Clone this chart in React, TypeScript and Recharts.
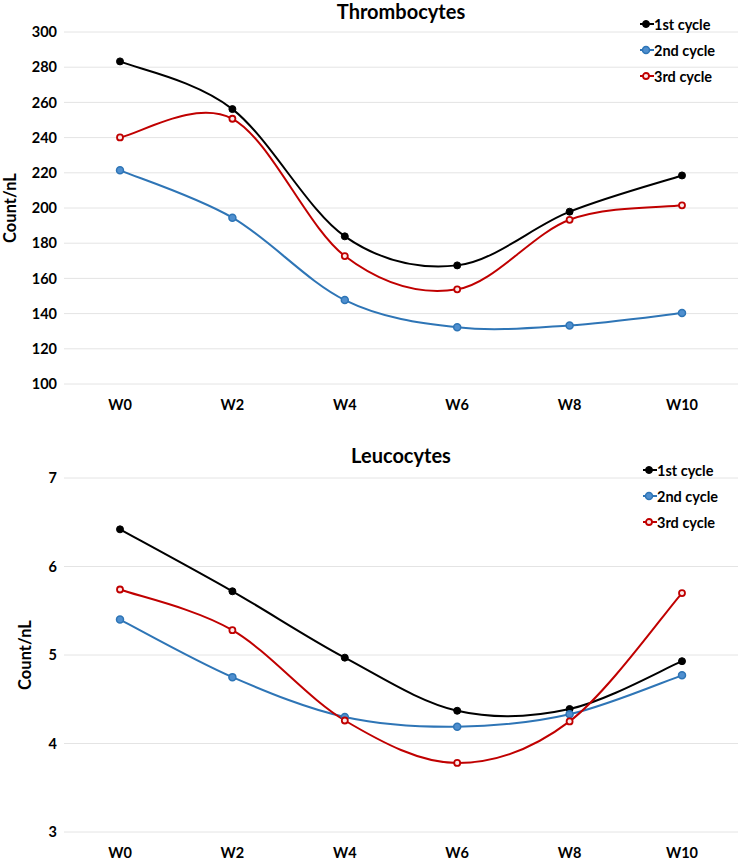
import React from 'react';
import { CartesianGrid, Line, LineChart, XAxis, YAxis } from 'recharts';

const weeks = ['W0', 'W2', 'W4', 'W6', 'W8', 'W10'];
const seriesNames = ['1st cycle', '2nd cycle', '3rd cycle'];

const thrombo1 = [283.3, 256.2, 183.9, 167.4, 197.9, 218.5];
const thrombo2 = [221.4, 194.5, 147.7, 132.2, 133.3, 140.3];
const thrombo3 = [240.1, 250.7, 172.7, 153.8, 193.3, 201.5];
const thromboTicks = [100, 120, 140, 160, 180, 200, 220, 240, 260, 280, 300];

const leuco1 = [6.42, 5.72, 4.97, 4.37, 4.39, 4.93];
const leuco2 = [5.4, 4.75, 4.3, 4.19, 4.33, 4.77];
const leuco3 = [5.74, 5.28, 4.26, 3.78, 4.25, 5.7];
const leucoTicks = [3, 4, 5, 6, 7];

const FONT = 'Lato, "Open Sans", sans-serif';
const BLACK = '#000000';
const BLUE = '#2e75b6';
const RED = '#c00000';

// excel-style smoothed line (bezier with 1/6 tangents)
function excelSmooth(context: any) {
  let pts: [number, number][] = [];
  return {
    areaStart() {},
    areaEnd() {},
    lineStart() {
      pts = [];
    },
    point(x: number, y: number) {
      pts.push([+x, +y]);
    },
    lineEnd() {
      const n = pts.length;
      if (!n) return;
      context.moveTo(pts[0][0], pts[0][1]);
      for (let i = 0; i < n - 1; i++) {
        const p0 = pts[Math.max(i - 1, 0)];
        const p1 = pts[i];
        const p2 = pts[i + 1];
        const p3 = pts[Math.min(i + 2, n - 1)];
        context.bezierCurveTo(
          p1[0] + (p2[0] - p0[0]) / 6,
          p1[1] + (p2[1] - p0[1]) / 6,
          p2[0] - (p3[0] - p1[0]) / 6,
          p2[1] - (p3[1] - p1[1]) / 6,
          p2[0],
          p2[1]
        );
      }
    },
  };
}

const toRows = (a: number[], b: number[], c: number[]) =>
  weeks.map((week, i) => ({ week, s1: a[i], s2: b[i], s3: c[i] }));

const seriesStyle = [
  { key: 's1', color: BLACK, dot: { r: 3.5, fill: BLACK, stroke: BLACK, strokeWidth: 1 } },
  { key: 's2', color: BLUE, dot: { r: 3.5, fill: '#4f8fcf', stroke: BLUE, strokeWidth: 1.5 } },
  { key: 's3', color: RED, dot: { r: 3, fill: '#fbeaea', stroke: RED, strokeWidth: 1.8 } },
];

type PanelProps = {
  title: string;
  data: ReturnType<typeof toRows>;
  ticks: number[];
  top: number;
  height: number;
  plotTop: number;
  xAxisHeight: number;
  titleTop: number;
  legendTop: number;
  legendLeft: number;
  yLabelX: number;
};

function Panel({ title, data, ticks, top, height, plotTop, xAxisHeight, titleTop, legendTop, legendLeft, yLabelX }: PanelProps) {
  return (
    <div style={{ position: 'absolute', top, left: 0, width: 742, height }}>
      <LineChart width={742} height={height} data={data} margin={{ top: plotTop, right: 4, bottom: 0, left: 0 }}>
        <CartesianGrid vertical={false} stroke="#e4e4e4" strokeWidth={1} />
        <XAxis
          dataKey="week"
          axisLine={false}
          tickLine={false}
          tickSize={0}
          tickMargin={16}
          height={xAxisHeight}
          padding={{ left: 56, right: 56 }}
          tick={{ fill: '#000', fontSize: 14.5, fontWeight: 700, fontFamily: FONT }}
        />
        <YAxis
          domain={[ticks[0], ticks[ticks.length - 1]]}
          ticks={ticks}
          axisLine={false}
          tickLine={false}
          tickSize={0}
          tickMargin={7}
          width={64}
          tick={{ fill: '#000', fontSize: 14.5, fontWeight: 700, fontFamily: FONT }}
          label={{
            content: ({ viewBox }: any) => {
              const cx = viewBox.x + yLabelX;
              const cy = viewBox.y + viewBox.height / 2;
              return (
                <text
                  x={cx}
                  y={cy}
                  transform={`rotate(-90 ${cx} ${cy})`}
                  textAnchor="middle"
                  dominantBaseline="central"
                  fontSize={16.5}
                  fontWeight={700}
                  fontFamily={FONT}
                  fill="#000"
                >
                  Count/nL
                </text>
              );
            },
          }}
        />
        {seriesStyle.map((s, i) => (
          <Line
            key={s.key}
            dataKey={s.key}
            name={seriesNames[i]}
            type={excelSmooth as any}
            stroke={s.color}
            strokeWidth={2}
            dot={s.dot}
            activeDot={false}
            isAnimationActive={false}
          />
        ))}
      </LineChart>
      <div
        style={{
          position: 'absolute',
          top: titleTop,
          left: 64,
          width: 674,
          textAlign: 'center',
          fontFamily: FONT,
          fontWeight: 700,
          fontSize: 20,
          lineHeight: '22px',
        }}
      >
        {title}
      </div>
      <div style={{ position: 'absolute', top: legendTop, left: legendLeft, fontFamily: FONT, fontWeight: 700, fontSize: 14.5 }}>
        {seriesStyle.map((s, i) => (
          <div key={s.key} style={{ display: 'flex', alignItems: 'center', height: 26 }}>
            <svg width={14} height={10}>
              <line x1={0} y1={5} x2={14} y2={5} stroke={s.color} strokeWidth={2} />
              <circle cx={6} cy={5} r={s.dot.r} fill={s.dot.fill} stroke={s.dot.stroke} strokeWidth={s.dot.strokeWidth} />
            </svg>
            <span>{seriesNames[i]}</span>
          </div>
        ))}
      </div>
    </div>
  );
}

export default function App() {
  return (
    <div style={{ position: 'absolute', top: 0, left: 0, width: 742, height: 860, background: '#fff', fontFamily: FONT }}>
      <Panel
        title="Thrombocytes"
        data={toRows(thrombo1, thrombo2, thrombo3)}
        ticks={thromboTicks}
        top={0}
        height={420}
        plotTop={32}
        xAxisHeight={36}
        titleTop={0}
        legendTop={11}
        legendLeft={640}
        yLabelX={10}
      />
      <Panel
        title="Leucocytes"
        data={toRows(leuco1, leuco2, leuco3)}
        ticks={leucoTicks}
        top={430}
        height={430}
        plotTop={48}
        xAxisHeight={28}
        titleTop={14}
        legendTop={27}
        legendLeft={643}
        yLabelX={25}
      />
    </div>
  );
}
